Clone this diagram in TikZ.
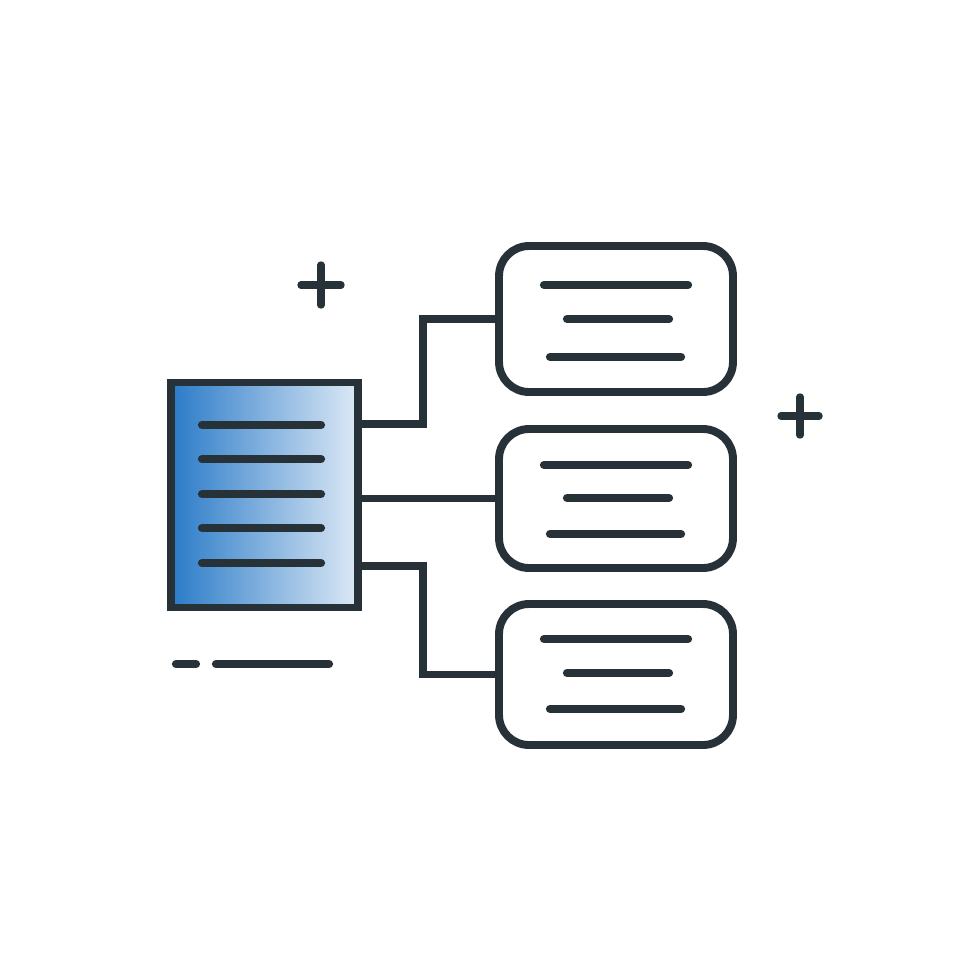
\documentclass[tikz,border=0pt]{standalone}
\usetikzlibrary{calc}
\definecolor{ink}{HTML}{263238}
\definecolor{docL}{HTML}{2A7BC8}
\definecolor{docR}{HTML}{DDE9F5}
\begin{document}
\begin{tikzpicture}[x=0.02cm,y=-0.02cm,
  stroke/.style={draw=ink,line width=4.5pt},
  txt/.style={draw=ink,line width=4.7pt,line cap=round},
  conn/.style={draw=ink,line width=4.5pt,line cap=round},
  card/.style={stroke,fill=white,rounded corners=0.6cm,minimum width=4.68cm,inner sep=0pt,outer sep=0pt},
  docbox/.style={draw=ink,line width=4.2pt,left color=docL,middle color=docL!58!docR,right color=docR,minimum width=3.74cm,minimum height=4.5cm,inner sep=0pt,outer sep=0pt}]
\useasboundingbox (0,0) rectangle (980,980);
\fill[white] (0,0) rectangle (980,980);
% document
\node[docbox] (doc) at (264.5,495) {};
% cards
\node[card,minimum height=2.92cm] (b1) at (616,319) {};
\node[card,minimum height=2.78cm] (b2) at (616,498.5) {};
\node[card,minimum height=2.82cm] (b3) at (616,674.5) {};
% connectors
\draw[conn] ([yshift=1.42cm]doc.east) -| ([xshift=-1.52cm]b1.west) -- (b1.west);
\draw[conn] (doc.east |- b2.west) -- (b2.west);
\draw[conn] ([yshift=-1.42cm]doc.east) -| ([xshift=-1.52cm]b3.west) -- (b3.west);
% document lines
\foreach \y in {425,459,494,528,563} \draw[txt] (202,\y) -- (321,\y);
% card lines
\foreach \a/\b/\c in {285/319/357, 465/498/534, 639/673/709}{
  \draw[txt] (544,\a) -- (688,\a);
  \draw[txt] (567,\b) -- (669,\b);
  \draw[txt] (550,\c) -- (681,\c);
}
% plus signs
\draw[txt,line width=4.2pt] (301,285) -- (341,285) (321,265) -- (321,305);
\draw[txt,line width=4.2pt] (781,416) -- (819,416) (800,397) -- (800,435);
% dashes
\draw[txt] (176,664) -- (196,664);
\draw[txt] (216,664) -- (329,664);
\end{tikzpicture}
\end{document}
